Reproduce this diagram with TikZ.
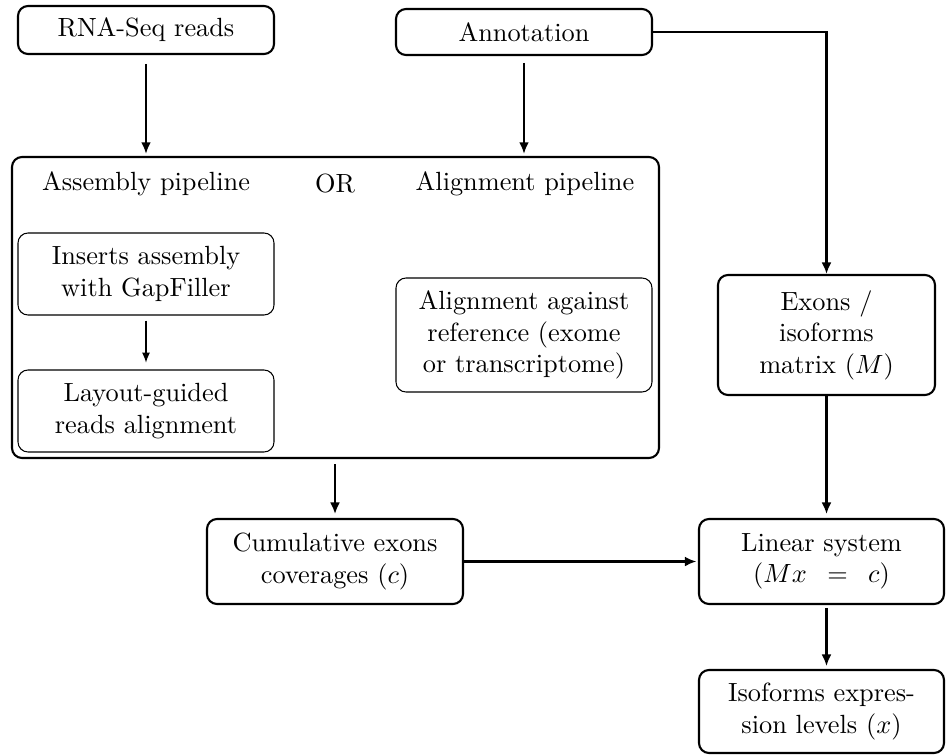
\documentclass[tikz,border=0pt]{standalone}
\usetikzlibrary{arrows.meta}
\begin{document}
\begin{tikzpicture}[x=0.38pt,y=-0.38pt,
  thickbox/.style={draw,line width=0.8pt,rounded corners=3.8pt,inner sep=0pt,align=center},
  thinbox/.style={draw,line width=0.4pt,rounded corners=3.8pt,inner sep=0pt,align=center},
  arr/.style={line width=0.8pt,-{Latex[length=4.4pt,width=3.8pt]}},
  thinarr/.style={line width=0.4pt,-{Latex[length=3.8pt,width=3pt]}},
  lbl/.style={inner sep=0pt}]
\useasboundingbox (0,0) rectangle (946,755);
% top inputs
\node[thickbox,minimum width={256*0.38pt},minimum height={48*0.38pt}] (rna) at (146,30) {RNA-Seq reads};
\node[thickbox,minimum width={256*0.38pt},minimum height={46*0.38pt}] (ann) at (524,32) {Annotation};
% big pipeline box
\node[thickbox,minimum width={647*0.38pt},minimum height={301*0.38pt}] (pipe) at (335.5,307.5) {};
\node[lbl] (asm) at (146,184) {Assembly pipeline};
\node[lbl] (or) at (335,184) {OR};
\node[lbl] (alp) at (525,184) {Alignment pipeline};
\node[thinbox,minimum width={256*0.38pt},minimum height={82*0.38pt}] (ins) at (146,274) {Inserts assembly\\with GapFiller};
\node[thinbox,minimum width={256*0.38pt},minimum height={82*0.38pt}] (lay) at (146,411) {Layout-guided\\reads alignment};
\node[thinbox,minimum width={256*0.38pt},minimum height={114*0.38pt}] (aln) at (524,335) {Alignment against\\reference (exome\\or transcriptome)};
% right column
\node[thickbox,minimum width={217*0.38pt},minimum height={120*0.38pt}] (ex) at (826.5,335) {Exons /\\isoforms\\matrix ($M$)};
\node[thickbox,minimum width={256*0.38pt},minimum height={85*0.38pt}] (cum) at (335,561.5) {Cumulative exons\\coverages ($c$)};
\node[thickbox,minimum width={245*0.38pt},minimum height={85*0.38pt}] (lin) at (821.5,561.5) {Linear system\\($Mx\enspace=\enspace c$)};
\node[thickbox,minimum width={245*0.38pt},minimum height={83*0.38pt}] (iso) at (821.5,711.5) {Isoforms expres-\\sion levels ($x$)};
% connectors
\draw[arr,shorten <=3.4pt,shorten >=0.8pt] (rna) -- (rna |- pipe.north);
\draw[arr,shorten <=2.6pt,shorten >=0.8pt] (ann) -- (ann |- pipe.north);
\draw[arr] (ann.east) -| (ex.north);
\draw[thinarr,shorten <=1.9pt,shorten >=2.6pt] (ins) -- (lay);
\draw[arr,shorten <=1.9pt,shorten >=1.5pt] (pipe.south -| cum) -- (cum);
\draw[arr,shorten >=1.5pt] (ex) -- (ex |- lin.north);
\draw[arr,shorten >=0.6pt] (cum) -- (lin);
\draw[arr,shorten <=1.1pt,shorten >=1.1pt] (lin.south -| ex) -- (iso.north -| ex);
\end{tikzpicture}
\end{document}
